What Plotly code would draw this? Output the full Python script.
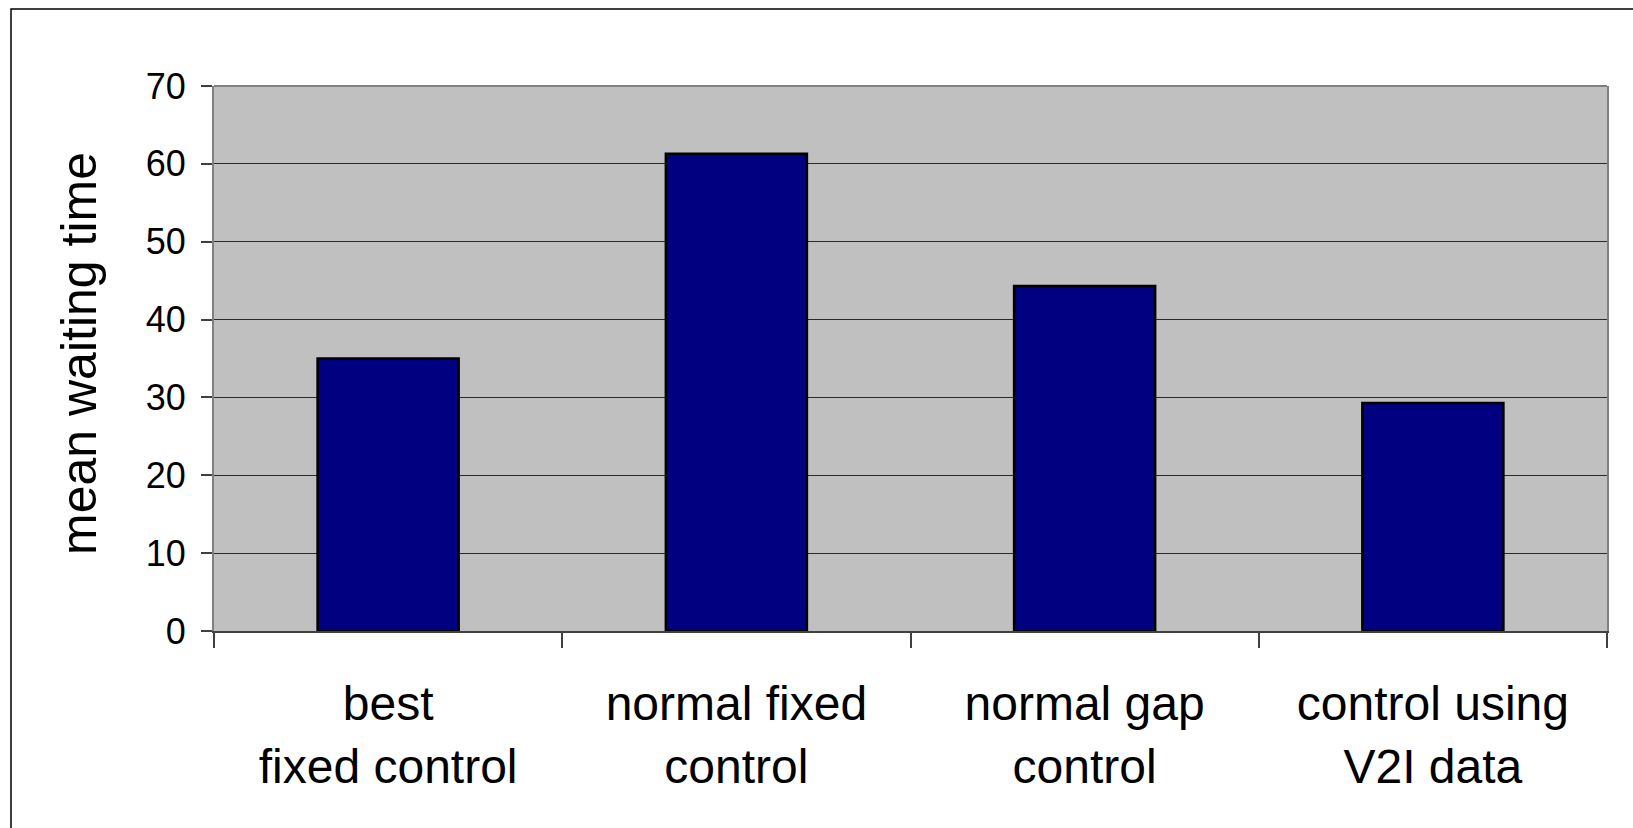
import plotly.graph_objects as go

# Mean waiting time per signal control strategy
categories = [
    "best<br>fixed control",
    "normal fixed<br>control",
    "normal gap<br>control",
    "control using<br>V2I data",
]
mean_waiting_time = [35.0, 61.3, 44.3, 29.3]
y_ticks = [0, 10, 20, 30, 40, 50, 60, 70]

W, H = 1633, 828
L, R, T, B = 214, 1607, 86, 631  # plot area in pixels


def px_x(p):
    return (p - L) / (R - L)


def px_y(p):
    return (B - p) / (B - T)


fig = go.Figure(
    go.Bar(
        x=categories,
        y=mean_waiting_time,
        marker=dict(color="#000080", line=dict(color="#000000", width=2.5)),
    )
)

font_family = "Liberation Sans, Arial, sans-serif"

fig.update_layout(
    width=W,
    height=H,
    margin=dict(l=L, r=W - R, t=T, b=H - B),
    paper_bgcolor="#ffffff",
    plot_bgcolor="#c0c0c0",
    bargap=0.595,
    showlegend=False,
    font=dict(family=font_family, color="#000000"),
    xaxis=dict(
        type="category",
        showgrid=False,
        showline=True,
        linecolor="#404040",
        linewidth=1.5,
        ticks="outside",
        tickson="boundaries",
        ticklen=15,
        tickcolor="#404040",
        tickwidth=1.5,
        tickfont=dict(size=48, family=font_family, color="#000000"),
        ticklabelstandoff=30,
        fixedrange=True,
    ),
    yaxis=dict(
        range=[0, 70],
        tickvals=y_ticks,
        ticktext=[str(v) for v in y_ticks],
        showgrid=True,
        gridcolor="#2a2a2a",
        gridwidth=1,
        zeroline=False,
        showline=True,
        linecolor="#808080",
        linewidth=2,
        mirror=True,
        ticks="outside",
        ticklen=11,
        tickcolor="#404040",
        tickwidth=1.5,
        tickfont=dict(size=36, family=font_family, color="#000000"),
        ticklabelstandoff=8,
        fixedrange=True,
    ),
    annotations=[
        dict(
            text="mean waiting time",
            xref="paper",
            yref="paper",
            x=px_x(79),
            y=px_y(354),
            xanchor="center",
            yanchor="middle",
            textangle=-90,
            showarrow=False,
            font=dict(size=50, family=font_family, color="#000000"),
        )
    ],
    shapes=[
        # top edge of the plot frame
        dict(
            type="line",
            xref="paper",
            yref="paper",
            x0=0,
            x1=1,
            y0=1,
            y1=1,
            line=dict(color="#808080", width=2),
            layer="above",
        ),
        # outer chart border
        dict(
            type="rect",
            xref="paper",
            yref="paper",
            x0=px_x(11),
            x1=px_x(1650),
            y0=px_y(9),
            y1=px_y(850),
            line=dict(color="#000000", width=1.5),
            fillcolor="rgba(0,0,0,0)",
            layer="above",
        ),
    ],
)

fig.write_html("out.html")
